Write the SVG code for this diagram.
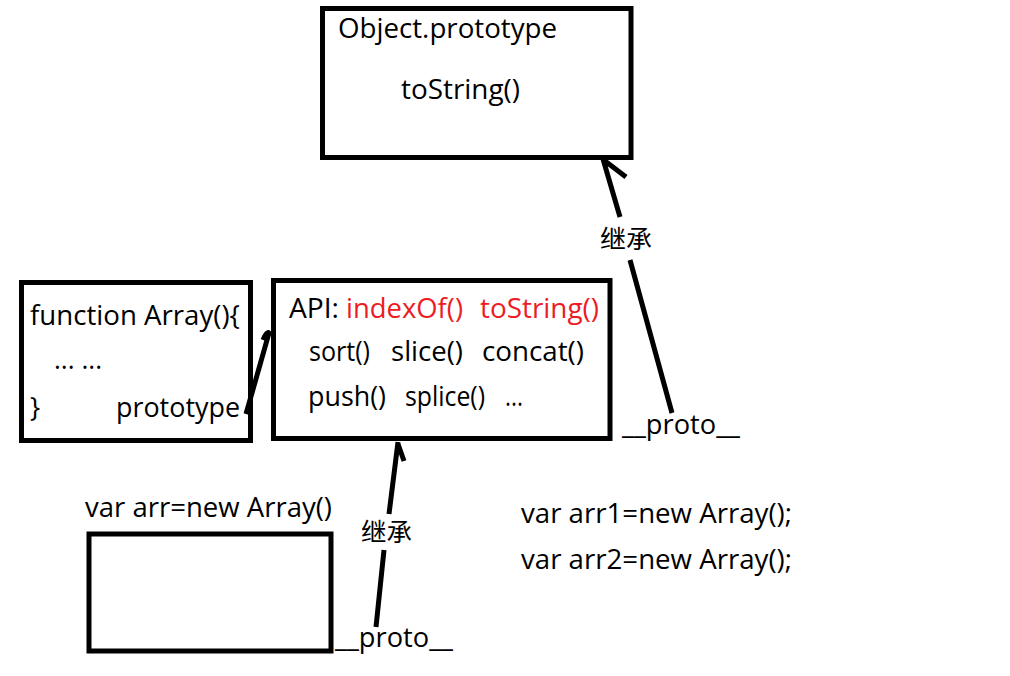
<svg xmlns="http://www.w3.org/2000/svg" width="1010" height="676" viewBox="0 0 1010 676">
<style>
.box{fill:none;stroke:#000;stroke-width:5}
.t{font-family:"Open Sans","Noto Sans",sans-serif;font-size:27px;fill:#000}
.red{fill:#ed1c24}
.cn{font-family:"Noto Sans CJK SC",sans-serif;font-size:25px;fill:#000}
.c{fill:none;stroke:#000;stroke-width:5;stroke-linecap:butt;stroke-linejoin:miter}
</style>
<rect width="1010" height="676" fill="#fff"/>
<g id="object-prototype">
<rect class="box" x="322.5" y="8.5" width="308.5" height="149"/>
<text class="t" x="338" y="38" textLength="219" lengthAdjust="spacingAndGlyphs">Object.prototype</text>
<text class="t" x="401" y="99" textLength="119" lengthAdjust="spacingAndGlyphs">toString()</text>
</g>
<g id="function-array">
<rect class="box" x="21.5" y="282.5" width="229" height="158"/>
<text class="t" x="30" y="325" textLength="210" lengthAdjust="spacingAndGlyphs">function Array(){</text>
<text class="t" x="54" y="369" textLength="48" lengthAdjust="spacingAndGlyphs">... ...</text>
<text class="t" x="30" y="417">}</text>
<text class="t" x="116" y="417" textLength="124" lengthAdjust="spacingAndGlyphs">prototype</text>
</g>
<g id="array-prototype">
<rect class="box" x="273.5" y="280.5" width="336.5" height="158"/>
<text class="t" x="289" y="318" textLength="50" lengthAdjust="spacingAndGlyphs">API:</text>
<text class="t red" x="346" y="318" textLength="117" lengthAdjust="spacingAndGlyphs">indexOf()</text>
<text class="t red" x="480" y="318" textLength="119" lengthAdjust="spacingAndGlyphs">toString()</text>
<text class="t" x="309" y="361" textLength="61" lengthAdjust="spacingAndGlyphs">sort()</text>
<text class="t" x="391" y="361" textLength="72" lengthAdjust="spacingAndGlyphs">slice()</text>
<text class="t" x="482" y="361" textLength="102" lengthAdjust="spacingAndGlyphs">concat()</text>
<text class="t" x="308" y="406" textLength="78" lengthAdjust="spacingAndGlyphs">push()</text>
<text class="t" x="405" y="406" textLength="80" lengthAdjust="spacingAndGlyphs">splice()</text>
<text class="t" x="505" y="406" textLength="18" lengthAdjust="spacingAndGlyphs">...</text>
</g>
<g id="arr-instance">
<text class="t" x="85" y="517" textLength="247" lengthAdjust="spacingAndGlyphs">var arr=new Array()</text>
<rect class="box" x="89" y="534" width="242" height="117"/>
<text class="t" x="335" y="647" textLength="118" lengthAdjust="spacingAndGlyphs">__proto__</text>
</g>
<g id="proto-label-right">
<text class="t" x="622" y="434" textLength="118" lengthAdjust="spacingAndGlyphs">__proto__</text>
</g>
<g id="instances-note">
<text class="t" x="521" y="523" textLength="271" lengthAdjust="spacingAndGlyphs">var arr1=new Array();</text>
<text class="t" x="521" y="569" textLength="271" lengthAdjust="spacingAndGlyphs">var arr2=new Array();</text>
</g>
<g id="connectors">
<path class="c" d="M246 414 L269 333 Q267 331 263 340"/>
<path class="c" d="M376 627 L384 550 M389 514 L398 442 M398 444 L404 461"/>
<path class="c" d="M672 413 L630 260 M620 217 L603 159 M605 161 L626 177"/>
<text class="cn" x="361" y="541" textLength="51" lengthAdjust="spacingAndGlyphs">继承</text>
<text class="cn" x="600" y="248" textLength="52" lengthAdjust="spacingAndGlyphs">继承</text>
</g>
</svg>
